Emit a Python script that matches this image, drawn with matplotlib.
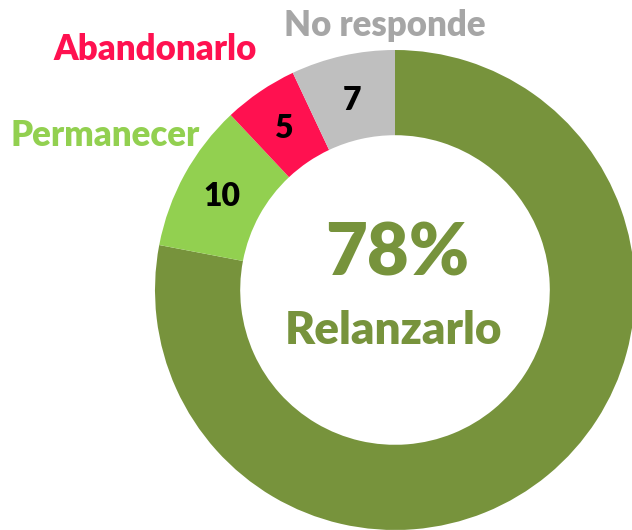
import matplotlib
matplotlib.use("Agg")
import matplotlib.pyplot as plt

# datos de la encuesta (en %)
categorias = ["Relanzarlo", "Permanecer", "Abandonarlo", "No responde"]
valores = [78, 10, 5, 7]
colores = ["#77933C", "#92D050", "#FF1150", "#BFBFBF"]
colores_texto = ["#77933C", "#92D050", "#FF1150", "#A6A6A6"]

W, H = 632, 530
plt.rcParams['font.family'] = ['Lato', 'DejaVu Sans']
PESO = 'heavy'

fig = plt.figure(figsize=(W / 100, H / 100), dpi=100)
ax = fig.add_axes([0, 0, 1, 1])

cx, cy, R = 395, H - 290, 240
wedges, _ = ax.pie(valores, colors=colores, startangle=90, counterclock=False,
                   radius=R, center=(cx, cy), frame=True,
                   wedgeprops=dict(width=R * 0.355, linewidth=0))
ax.set_xlim(0, W)
ax.set_ylim(0, H)
ax.axis('off')

# valores dentro del anillo (excepto el principal)
pos_num = {"Permanecer": (222, 197), "Abandonarlo": (283, 128), "No responde": (352, 100)}
for cat, val in zip(categorias, valores):
    if cat in pos_num:
        x, y = pos_num[cat]
        ax.text(x, H - y, str(val), ha='center', va='center', fontsize=23,
                fontweight=PESO, color='black')

# etiquetas externas
pos_lab = {"Permanecer": (105, 135), "Abandonarlo": (155, 50), "No responde": (385, 25)}
for cat, col in zip(categorias, colores_texto):
    if cat in pos_lab:
        x, y = pos_lab[cat]
        ax.text(x, H - y, cat, ha='center', va='center', fontsize=25,
                fontweight=PESO, color=col)

# centro
ax.text(397, H - 255, f"{valores[0]}%", ha='center', va='center', fontsize=52,
        fontweight=PESO, color=colores[0])
ax.text(393, H - 330, categorias[0], ha='center', va='center', fontsize=33,
        fontweight=PESO, color=colores[0])

plt.savefig("out.png", dpi=100)
plt.close(fig)
